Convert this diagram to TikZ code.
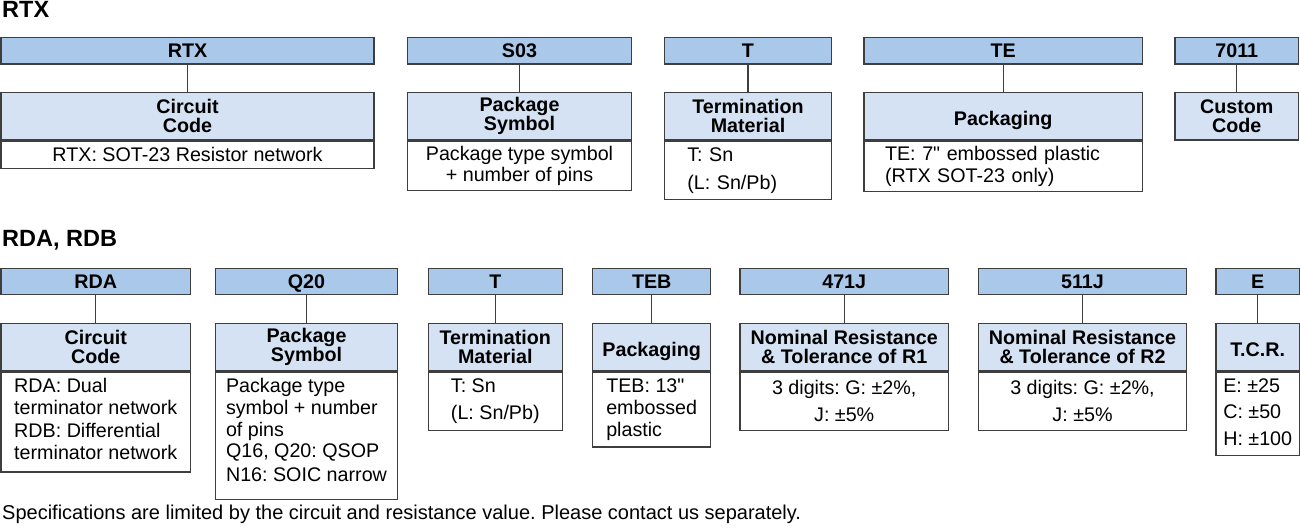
\documentclass[tikz,border=0pt]{standalone}
\usepackage{fontspec}
\setmainfont{Liberation Sans}[Ligatures=TeXOff]
\frenchspacing
\definecolor{azulcodigo}{RGB}{170,200,233}
\definecolor{azulcampo}{RGB}{213,226,243}
\definecolor{borde}{RGB}{62,62,62}
\tikzset{
  codigo/.style={draw=borde, line width=1.3pt, fill=azulcodigo, inner sep=0pt, minimum height=26.3pt, text height=14pt, text depth=0pt, font=\bfseries\fontsize{19.7}{19.7}\selectfont},
  campo/.style={draw=borde, line width=1.3pt, fill=azulcampo, inner sep=0pt, minimum height=47.5pt, align=center, font=\bfseries\fontsize{19.7}{19.5}\selectfont},
  unalinea/.style={text height=18.5pt, text depth=0pt},
  detalle/.style={draw=borde, line width=1.3pt, fill=white, inner sep=0pt, anchor=north, font=\fontsize{19.7}{21.7}\selectfont},
  union/.style={draw=borde, line width=1.3pt},
  titulo/.style={anchor=base west, inner sep=0pt, font=\bfseries\fontsize{23.5}{23.5}\selectfont}
}
\begin{document}
\begin{tikzpicture}[x=1pt, y=-1pt]
    \useasboundingbox (0,0) rectangle (1300,531);

    % Serie RTX
    \node[titulo] (tRTX) at (2,17.3) {RTX};

    \node[codigo, minimum width=373pt] (hRTX) at (187.5,50.85) {RTX};
    \node[campo, minimum width=373pt] (cRTX) at (187.5,116.15) {Circuit\\Code};
    \node[detalle, minimum width=373pt, minimum height=27pt, align=center] (dRTX) at (cRTX.south) {RTX: SOT-23 Resistor network};
    \draw[union] (hRTX) -- (cRTX);

    \node[codigo, minimum width=224pt] (hS03) at (519.5,50.85) {S03};
    \node[campo, minimum width=224pt] (cS03) at (519.5,116.15) {Package\\Symbol};
    \node[detalle, minimum width=224pt, minimum height=49pt, align=center, font=\fontsize{19.7}{20.7}\selectfont] (dS03) at (cS03.south) {Package type symbol\\+ number of pins};
    \draw[union] (hS03) -- (cS03);

    \node[codigo, minimum width=167.4pt] (hT1) at (748,50.85) {T};
    \node[campo, minimum width=167.4pt] (cT1) at (748,116.15) {Termination\\Material};
    \node[detalle, minimum width=167.4pt, minimum height=58.3pt, align=left, inner xsep=23pt, text width=121.4pt] (dT1) at (cT1.south) {T:\ Sn\\[6pt](L: Sn/Pb)};
    \draw[union] (hT1) -- (cT1);

    \node[codigo, minimum width=278.3pt] (hTE) at (1003.2,50.85) {TE};
    \node[campo, unalinea, minimum width=278.3pt] (cTE) at (1003.2,116.15) {Packaging};
    \node[detalle, minimum width=278.3pt, minimum height=50pt, align=left, inner xsep=21pt, text width=236.3pt, font=\fontsize{19.7}{22.4}\selectfont] (dTE) at (cTE.south) {TE: 7" embossed plastic\\(RTX SOT-23 only)};
    \draw[union] (hTE) -- (cTE);

    \node[codigo, minimum width=123.3pt] (h7011) at (1236.7,50.85) {7011};
    \node[campo, minimum width=123.3pt] (c7011) at (1236.7,116.15) {Custom\\Code};
    \draw[union] (h7011) -- (c7011);

    % Series RDA, RDB
    \node[titulo] (tRDA) at (2,246) {RDA, RDB};

    \node[codigo, minimum width=189.7pt] (hRDA) at (95.8,281.5) {RDA};
    \node[campo, minimum width=189.7pt] (cRDA) at (95.8,347) {Circuit\\Code};
    \node[detalle, minimum width=189.7pt, minimum height=100pt, align=left, text depth=6pt] (dRDA) at (cRDA.south) {RDA: Dual\\terminator network\\[1.6pt]RDB: Differential\\terminator network};
    \draw[union] (hRDA) -- (cRDA);

    \node[codigo, minimum width=182.4pt] (hQ20) at (306.5,281.5) {Q20};
    \node[campo, minimum width=182.4pt] (cQ20) at (306.5,347) {Package\\Symbol};
    \node[detalle, minimum width=182.4pt, minimum height=127.6pt, align=left, text depth=12pt] (dQ20) at (cQ20.south) {Package type\\symbol + number\\of pins\\Q16, Q20: QSOP\\[1.6pt]N16: SOIC narrow};
    \draw[union] (hQ20) -- (cQ20);

    \node[codigo, minimum width=134pt] (hT2) at (495.3,281.5) {T};
    \node[campo, minimum width=134pt] (cT2) at (495.3,347) {Termination\\Material};
    \node[detalle, minimum width=134pt, minimum height=58.3pt, align=left] (dT2) at (cT2.south) {T:\ Sn\\[5pt](L: Sn/Pb)};
    \draw[union] (hT2) -- (cT2);

    \node[codigo, minimum width=118pt] (hTEB) at (651.7,281.5) {TEB};
    \node[campo, unalinea, minimum width=118pt] (cTEB) at (651.7,347) {Packaging};
    \node[detalle, minimum width=118pt, minimum height=75pt, align=left] (dTEB) at (cTEB.south) {TEB: 13"\\embossed\\plastic};
    \draw[union] (hTEB) -- (cTEB);

    \node[codigo, minimum width=208.3pt] (h471J) at (844.2,281.5) {471J};
    \node[campo, minimum width=208.3pt] (c471J) at (844.2,347) {Nominal Resistance\\\& Tolerance of R1};
    \node[detalle, minimum width=208.3pt, minimum height=58.3pt, align=center] (d471J) at (c471J.south) {3 digits: G: ±2\%,\\[5pt]J: ±5\%};
    \draw[union] (h471J) -- (c471J);

    \node[codigo, minimum width=208.4pt] (h511J) at (1082.5,281.5) {511J};
    \node[campo, minimum width=208.4pt] (c511J) at (1082.5,347) {Nominal Resistance\\\& Tolerance of R2};
    \node[detalle, minimum width=208.4pt, minimum height=58.3pt, align=center] (d511J) at (c511J.south) {3 digits: G: ±2\%,\\[5pt]J: ±5\%};
    \draw[union] (h511J) -- (c511J);

    \node[codigo, minimum width=83.3pt] (hE) at (1257.7,281.5) {E};
    \node[campo, minimum width=83.3pt, text height=18pt, text depth=0pt] (cE) at (1257.7,347) {T.C.R.};
    \node[detalle, minimum width=83.3pt, minimum height=83.6pt, align=left, text depth=4pt] (dE) at (cE.south) {E: ±25\\[5pt]C: ±50\\[5pt]H: ±100};
    \draw[union] (hE) -- (cE);

    % Nota
    \node[anchor=base west, inner sep=0pt, font=\fontsize{20}{24}\selectfont] (nota) at (2,519.5) {Specifications are limited by the circuit and resistance value. Please contact us separately.};
\end{tikzpicture}
\end{document}
